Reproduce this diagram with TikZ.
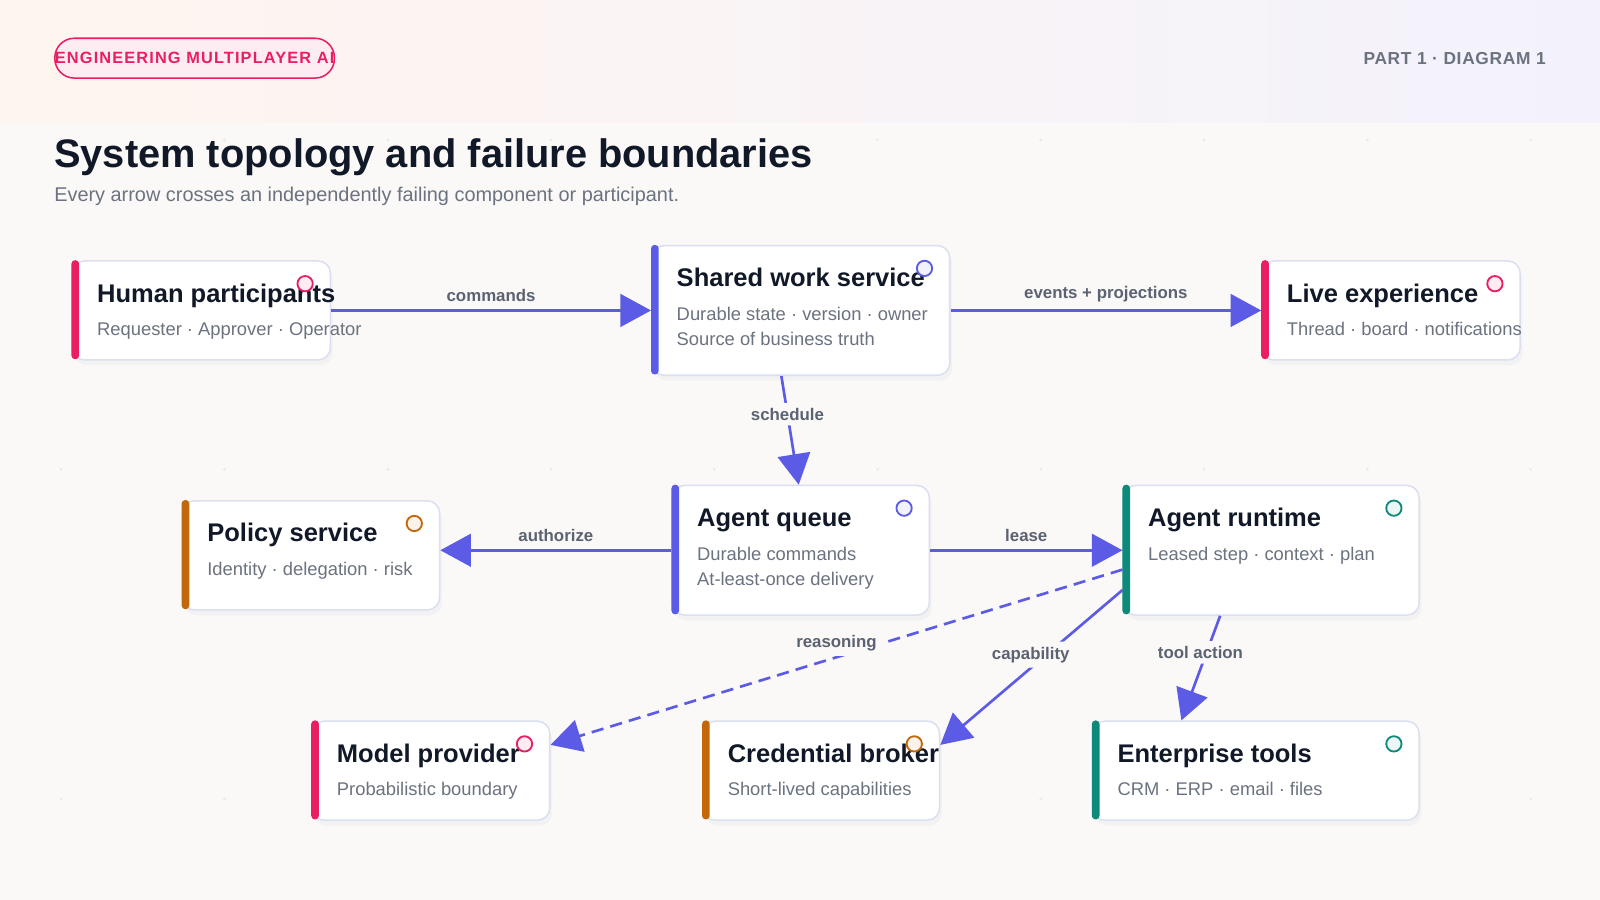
\documentclass[tikz,border=0pt]{standalone}
\usepackage{fontspec}
\setmainfont{Liberation Sans}
\usetikzlibrary{arrows.meta,calc}
\definecolor{bg}{HTML}{FAF9F7}
\definecolor{ink}{HTML}{111827}
\definecolor{muted}{HTML}{6B7280}
\definecolor{lab}{HTML}{5B6272}
\definecolor{ind}{HTML}{5B5BE6}
\definecolor{pink}{HTML}{E91E63}
\definecolor{org}{HTML}{C2680A}
\definecolor{teal}{HTML}{0E8A7A}
\definecolor{bord}{HTML}{DCDFEF}
\definecolor{hdrA}{HTML}{FFF5EF}
\definecolor{hdrB}{HTML}{F3F2FC}
\tikzset{
  box/.style={draw=bord, line width=1.5pt, fill=white, rounded corners=12pt, inner sep=0pt},
  ttl/.style={font=\fontsize{25}{30}\selectfont\bfseries, text=ink, inner sep=0pt},
  sub/.style={font=\fontsize{18}{25}\selectfont, text=muted, inner sep=0pt},
  lbl/.style={font=\fontsize{16.5}{19}\selectfont\bfseries, text=lab, inner sep=3pt},
  lblbg/.style={lbl, fill=bg, rounded corners=8pt, inner sep=5pt},
  arr/.style={draw=ind, line width=2.6pt, -{Triangle[length=30pt,width=32pt]}},
}
\newcommand\cbox[9]{%
  \fill[black!5, rounded corners=12pt] (#2+3,#3+6) rectangle ++(#4,#5);
  \node[box, minimum width=#4pt, minimum height=#5pt, anchor=north west] (#1) at (#2,#3) {};
  \fill[#6, rounded corners=3.5pt] (#2,#3) rectangle ++(7.5,#5);
  \node[ttl, anchor=base west] at (#2+25,#3+41) {#7};
  \node[sub, anchor=base west] at (#2+25,#3+74) {#8};
  \node[sub, anchor=base west] at (#2+25,#3+99) {#9};
  \draw[#6, line width=1.8pt, fill=#6!8] (#2+#4-24,#3+23) circle (7.5pt);
}
\begin{document}
\begin{tikzpicture}[x=1pt,y=-1pt]
\useasboundingbox (0,0) rectangle (1568,882);
\fill[bg] (0,0) rectangle (1568,882);
\shade[left color=hdrA, right color=hdrB] (0,0) rectangle (1568,120);
\foreach \yy in {137,460,783}{\foreach \xx in {60,220,...,1540}{\fill[black!8] (\xx,\yy) circle (1.6pt);}}
% header
\node[draw=pink, line width=1.5pt, fill=pink!8, rounded corners=19pt, minimum width=274pt, minimum height=39pt, inner sep=0pt, text=pink, font=\fontsize{16}{18}\selectfont\bfseries\addfontfeature{LetterSpace=7}, anchor=west] (pill) at (53,57) {ENGINEERING MULTIPLAYER AI};
\node[anchor=east, text=muted, font=\fontsize{17}{20}\selectfont\bfseries\addfontfeature{LetterSpace=4}, inner sep=0pt] (part) at (1515,57) {PART 1 · DIAGRAM 1};
\node[anchor=base west, text=ink, font=\fontsize{39}{44}\selectfont\bfseries, inner sep=0pt] (title) at (53,164) {System topology and failure boundaries};
\node[anchor=base west, text=muted, font=\fontsize{19.5}{22}\selectfont, inner sep=0pt] (subt) at (53,197) {Every arrow crosses an independently failing component or participant.};
% boxes
\cbox{hum}{70}{255}{253}{97}{pink}{Human participants}{Requester · Approver · Operator}{}
\cbox{shr}{638}{240}{292}{127}{ind}{Shared work service}{Durable state · version · owner}{Source of business truth}
\cbox{live}{1236}{255}{253}{97}{pink}{Live experience}{Thread · board · notifications}{}
\cbox{pol}{178}{490}{252}{107}{org}{Policy service}{Identity · delegation · risk}{}
\cbox{que}{658}{475}{252}{127}{ind}{Agent queue}{Durable commands}{At-least-once delivery}
\cbox{run}{1100}{475}{290}{127}{teal}{Agent runtime}{Leased step · context · plan}{}
\cbox{mod}{305}{706}{233}{97}{pink}{Model provider}{Probabilistic boundary}{}
\cbox{cred}{688}{706}{232}{97}{org}{Credential broker}{Short-lived capabilities}{}
\cbox{ent}{1070}{706}{320}{97}{teal}{Enterprise tools}{CRM · ERP · email · files}{}
% connectors
\draw[arr] (hum.east) -- (shr.west) node[lbl, midway, above=4pt] {commands};
\draw[arr] (shr.east) -- (live.west) node[lbl, midway, above=4pt] {events + projections};
\draw[arr] ($(shr.south)+(-19,0)$) -- node[lblbg, pos=0.35] {schedule} ($(que.north)+(-2,0)$);
\draw[arr] (que.west) -- (que.west -| pol.east) node[lbl, midway, above=4pt] {authorize};
\draw[arr] (que.east) -- (run.west) node[lbl, midway, above=4pt] {lease};
\draw[arr, dash pattern=on 12pt off 7pt] ($(run.west)+(0,19)$) -- node[lblbg, pos=0.5, yshift=14pt] {reasoning} ($(mod.north east)+(0,24)$);
\draw[arr] ($(run.west)+(0,39)$) -- node[lblbg, pos=0.47, yshift=8pt, xshift=-6pt] {capability} ($(cred.north east)+(0,24)$);
\draw[arr] ($(run.south)+(-50,0)$) -- node[lblbg, pos=0.35, xshift=-6pt] {tool action} ($(ent.north)+(-73,0)$);
\end{tikzpicture}
\end{document}
